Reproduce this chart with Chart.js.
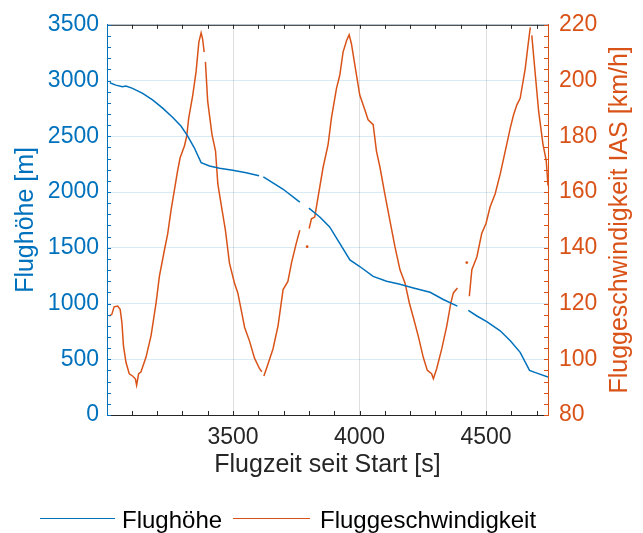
<!DOCTYPE html>
<html lang="de">
<head>
<meta charset="utf-8">
<title>Flughöhe und Fluggeschwindigkeit</title>
<script src="https://cdn.jsdelivr.net/npm/chart.js@4.4.0/dist/chart.umd.min.js"></script>
<style>
  html, body { margin: 0; padding: 0; background: #fff; }
  #wrap { position: relative; width: 643px; height: 533px; }
  #legende { position: absolute; left: 0; top: 0; width: 643px; height: 533px; pointer-events: none;
             font-family: "Liberation Sans", Arial, sans-serif; font-size: 24px; line-height: 24px; color: #000; }
  #legende .linie { position: absolute; height: 0; border-top: 1.5px solid; }
  #legende .text { position: absolute; white-space: nowrap; }
</style>
</head>
<body>
<div id="wrap">
  <canvas id="flugChart" width="643" height="533"></canvas>
  <div id="legende">
    <div class="linie" style="left:40px; top:518px; width:75px; border-color:#0072BD;"></div>
    <div class="text" style="left:122px; top:508px;">Flughöhe</div>
    <div class="linie" style="left:233px; top:518px; width:77px; border-color:#D95319;"></div>
    <div class="text" style="left:320px; top:508px;">Fluggeschwindigkeit</div>
  </div>
</div>
<script>
// Farben wie MATLAB-Standard
const BLAU = "#0072BD";
const ORANGE = "#D95319";
const DUNKEL = "#262626";
const SCHRIFT = "'Liberation Sans', Arial, sans-serif";

// Tick-Beschriftungen
const xTicks = [3500, 4000, 4500];
const hoeheTicks = [0, 500, 1000, 1500, 2000, 2500, 3000, 3500];
const speedTicks = [80, 100, 120, 140, 160, 180, 200, 220];

// Flughöhe [m] über Flugzeit [s] (null = Lücke in der Aufzeichnung)
const zeitHoehe = [
  3013, 3037, 3063, 3077, 3103, 3143, 3182, 3222, 3262, 3295,
  3321, 3347, 3374, 3407, 3447, 3499, 3552, 3603, 3612, 3620,
  3697, 3764, 3780, 3800, 3843, 3882, 3922, 3962, 4001, 4054,
  4107, 4160, 4213, 4279, 4331, 4387, 4410, 4430, 4464, 4503,
  4556, 4596, 4635, 4672, 4701, 4745
];
const hoehe = [
  2980, 2959, 2945, 2950, 2930, 2885, 2826, 2752, 2669, 2590,
  2501, 2397, 2264, 2234, 2214, 2196, 2172, 2146, null, 2135,
  2027, 1909, null, 1855, 1776, 1687, 1539, 1391, 1332, 1243,
  1199, 1172, 1139, 1101, 1036, 977, null, 938, 888, 838,
  755, 666, 562, 400, 376, 340
];

// Fluggeschwindigkeit IAS [km/h] über Flugzeit [s]
const zeitSpeed = [
  3011, 3021, 3030, 3044, 3054, 3061, 3067, 3077, 3090, 3103,
  3114, 3119, 3127, 3136, 3156, 3176, 3196, 3209, 3229, 3242,
  3255, 3268, 3281, 3291, 3308, 3317, 3325, 3341, 3354, 3365,
  3374, 3380, 3386, 3388, 3391, 3400, 3417, 3431, 3440, 3457,
  3470, 3486, 3506, 3519, 3532, 3546, 3565, 3585, 3605, 3614,
  3618, 3622, 3632, 3658, 3678, 3698, 3717, 3731, 3750, 3764,
  3770, 3793, 3797, 3801, 3810, 3823, 3836, 3856, 3876, 3889,
  3909, 3922, 3935, 3949, 3959, 3968, 3986, 4001, 4021, 4034,
  4054, 4067, 4081, 4100, 4120, 4140, 4160, 4180, 4197, 4213,
  4232, 4252, 4268, 4285, 4292, 4305, 4325, 4345, 4361, 4371,
  4387, 4400, 4424, 4429, 4434, 4444, 4464, 4483, 4500, 4516,
  4536, 4556, 4576, 4596, 4609, 4622, 4635, 4655, 4666, 4675,
  4678, 4681, 4695, 4708, 4725, 4738, 4745
];
const speed = [
  115.5, 116.1, 118.8, 119.1, 117.9, 113.1, 104.9, 98.9, 94.8, 94.0,
  93.0, 90.7, 94.8, 95.4, 100.7, 108.4, 120.2, 129.7, 139.2, 145.1,
  153.4, 160.5, 167.6, 172.3, 176.5, 180.0, 186.5, 194.8, 203.1, 213.8,
  217.1, 214.9, 210.2, null, 206.7, 192.5, 180.6, 174.7, 162.9, 153.4,
  146.3, 134.5, 127.3, 123.8, 117.9, 111.4, 106.6, 100.4, 96.6, 95.5,
  null, 94.0, 96.6, 103.7, 112.0, 125.0, 127.9, 134.5, 141.6, 146.3,
  null, 140.4, null, 146.9, 150.4, 151.0, 158.1, 168.8, 177.1, 186.5,
  197.2, 201.9, 210.2, 214.4, 216.4, 213.2, 203.1, 194.8, 189.5, 185.9,
  184.2, 174.7, 168.8, 159.3, 149.8, 140.4, 132.1, 127.3, 120.2, 114.9,
  108.4, 100.7, 96.0, 94.8, 93.0, 96.6, 103.7, 112.0, 120.2, 123.8,
  125.6, null, 134.7, null, 122.6, 132.1, 136.8, 145.1, 148.7, 154.6,
  159.3, 166.4, 174.7, 183.0, 187.7, 191.3, 193.6, 204.3, 212.6, 219.1,
  null, 216.2, 202.0, 189.0, 177.2, 171.3, 162.3
];

// Achsenbereiche
const X_MIN = 3002, X_MAX = 4745;
const H_MIN = 0, H_MAX = 3500;
const V_MIN = 80, V_MAX = 220;

function punkte(xs, ys) {
  return xs.map((x, i) => ({ x: x, y: ys[i] }));
}

// feste Ticks setzen (Chart.js rundet sonst auf min/max)
function festeTicks(werte) {
  return (s) => { s.ticks = werte.map((v) => ({ value: v })); };
}

// einzelne Messpunkte ohne Nachbarn als kleinen Punkt zeigen
function einzelPunkt(c) {
  const d = c.dataset.data;
  const i = c.dataIndex;
  if (!d[i] || d[i].y === null) return 0;
  const vorher = d[i - 1], nachher = d[i + 1];
  const allein = (!vorher || vorher.y === null) && (!nachher || nachher.y === null);
  return allein ? 1.4 : 0;
}

/**
 * Zeichnet MATLAB-artige Achsen: Rahmen oben, nach innen zeigende Ticks,
 * und die rechte Achsenbeschriftung (von unten nach oben gelesen).
 */
const achsenPlugin = {
  id: "achsen",
  afterDraw(chart) {
    const { ctx, chartArea: a } = chart;
    const sx = chart.scales.x;
    const sy = chart.scales.y;
    const sy2 = chart.scales.y2;
    const len = 4;
    ctx.save();
    ctx.lineWidth = 1;

    ctx.strokeStyle = DUNKEL;
    ctx.beginPath();
    ctx.moveTo(a.left, a.top + 0.5);
    ctx.lineTo(a.right, a.top + 0.5);
    for (let t = Math.ceil(sx.min / 100) * 100; t <= sx.max; t += 100) {
      const px = Math.round(sx.getPixelForValue(t)) + 0.5;
      ctx.moveTo(px, a.bottom);
      ctx.lineTo(px, a.bottom - len);
      ctx.moveTo(px, a.top);
      ctx.lineTo(px, a.top + len);
    }
    ctx.stroke();

    ctx.strokeStyle = BLAU;
    ctx.beginPath();
    for (let h = H_MIN; h <= H_MAX; h += 100) {
      const py = Math.round(sy.getPixelForValue(h)) + 0.5;
      ctx.moveTo(a.left, py);
      ctx.lineTo(a.left + len, py);
    }
    ctx.stroke();

    ctx.strokeStyle = ORANGE;
    ctx.beginPath();
    for (let v = V_MIN; v <= V_MAX; v += 4) {
      const py = Math.round(sy2.getPixelForValue(v)) + 0.5;
      ctx.moveTo(a.right, py);
      ctx.lineTo(a.right - len, py);
    }
    ctx.stroke();

    ctx.fillStyle = ORANGE;
    ctx.font = "25px " + SCHRIFT;
    ctx.textAlign = "center";
    ctx.textBaseline = "middle";
    ctx.translate(620, (a.top + a.bottom) / 2);
    ctx.rotate(-Math.PI / 2);
    ctx.fillText("Fluggeschwindigkeit IAS [km/h]", 0, 0);
    ctx.restore();
  }
};

const ctx = document.getElementById("flugChart").getContext("2d");

new Chart(ctx, {
  type: "line",
  data: {
    datasets: [
      {
        label: "Flughöhe",
        data: punkte(zeitHoehe, hoehe),
        yAxisID: "y",
        borderColor: BLAU,
        backgroundColor: BLAU,
        borderWidth: 1.5,
        pointRadius: einzelPunkt,
        pointBorderWidth: 0,
        spanGaps: false,
        tension: 0,
      },
      {
        label: "Fluggeschwindigkeit",
        data: punkte(zeitSpeed, speed),
        yAxisID: "y2",
        borderColor: ORANGE,
        backgroundColor: ORANGE,
        borderWidth: 1.5,
        pointRadius: einzelPunkt,
        pointBorderWidth: 0,
        spanGaps: false,
        tension: 0,
      },
    ],
  },
  options: {
    responsive: false,
    animation: false,
    layout: { padding: { top: 21, right: 0, bottom: 53, left: 0 } },
    plugins: {
      legend: { display: false },
      tooltip: { enabled: false },
    },
    scales: {
      x: {
        type: "linear",
        position: "bottom",
        min: X_MIN,
        max: X_MAX,
        afterFit: (s) => { s.height = 65; },
        afterBuildTicks: festeTicks(xTicks),
        ticks: {
          maxRotation: 0,
          autoSkip: false,
          color: DUNKEL,
          padding: 9,
          font: { family: SCHRIFT, size: 23 },
          callback: (v) => String(v),
        },
        grid: { color: "rgba(38,38,38,0.15)", drawTicks: false },
        border: { color: DUNKEL, width: 1 },
        title: {
          display: true,
          text: "Flugzeit seit Start [s]",
          color: DUNKEL,
          padding: { top: 0, bottom: 0 },
          font: { family: SCHRIFT, size: 25 },
        },
      },
      y: {
        position: "left",
        min: H_MIN,
        max: H_MAX,
        afterFit: (s) => { s.width = 107; },
        afterBuildTicks: festeTicks(hoeheTicks),
        ticks: {
          autoSkip: false,
          color: BLAU,
          padding: 8,
          font: { family: SCHRIFT, size: 23 },
          callback: (v) => String(v),
        },
        grid: { color: "rgba(0,114,189,0.15)", drawTicks: false },
        border: { color: BLAU, width: 1 },
        title: {
          display: true,
          text: "Flughöhe [m]",
          color: BLAU,
          padding: { top: 11, bottom: 0 },
          font: { family: SCHRIFT, size: 25 },
        },
      },
      y2: {
        position: "right",
        min: V_MIN,
        max: V_MAX,
        afterFit: (s) => { s.width = 95; },
        afterBuildTicks: festeTicks(speedTicks),
        ticks: {
          autoSkip: false,
          color: ORANGE,
          padding: 11,
          font: { family: SCHRIFT, size: 23 },
          callback: (v) => String(v),
        },
        grid: { display: false, drawTicks: false },
        border: { color: ORANGE, width: 1 },
      },
    },
  },
  plugins: [achsenPlugin],
});
</script>
</body>
</html>
